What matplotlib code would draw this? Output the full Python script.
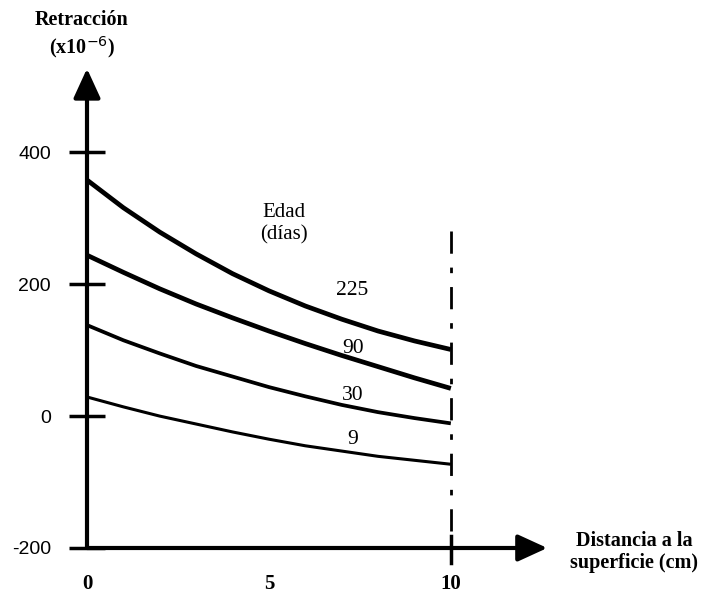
import matplotlib as mpl
mpl.use('agg')
import matplotlib.pyplot as plt

# distance from surface (cm)
distancia = [0, 1, 2, 3, 4, 5, 6, 7, 8, 9, 10]
# shrinkage (x10^-6) for each age (days)
edad_225 = [358, 316, 279, 246, 216, 190, 167, 147, 129, 114, 101]
edad_90 = [244, 218, 193, 170, 149, 129, 110, 92, 75, 58, 42]
edad_30 = [138, 115, 95, 76, 60, 44, 30, 17, 6, -3, -11]
edad_9 = [29, 14, 0, -12, -24, -35, -45, -53, -61, -67, -73]
series = [('225', edad_225, 3.4, 191), ('90', edad_90, 3.4, 103),
          ('30', edad_30, 2.7, 32), ('9', edad_9, 2.2, -36)]
y_ticks = [400, 200, 0, -200]
x_ticks = [0, 5, 10]

serif = 'Liberation Serif'
sans = 'Liberation Sans'

fig = plt.figure(figsize=(7.07, 5.97), dpi=100)
W, H = 707, 597
ax = fig.add_axes([87 / W, (H - 548) / H, (560 - 87) / W, (548 - 60) / H])
ax.set_xlim(0, 13.0)
ax.set_ylim(-200, 540)
for s in ax.spines.values():
    s.set_visible(False)

for name, vals, lw, ly in series:
    ax.plot(distancia, vals, color='black', lw=lw, solid_capstyle='butt')
    ax.text(7.3, ly, name, fontsize=15.5, family=serif, ha='center', va='center')

ax.text(5.4, 292, 'Edad\n(días)', fontsize=15, family=serif, ha='center',
        va='center', linespacing=1.2)

# axes with arrows
arrow = dict(arrowstyle='-|>,head_length=1.2,head_width=0.55', lw=3, color='black',
             shrinkA=0, shrinkB=0, mutation_scale=15)
ax.annotate('', xy=(0, 527), xytext=(0, -200), arrowprops=arrow, annotation_clip=False)
ax.annotate('', xy=(12.65, -200), xytext=(0, -200), arrowprops=arrow, annotation_clip=False)

# dashed limit at 10 cm
ax.plot([10, 10], [280, -222], color='black', lw=2, ls=(0, (8, 5, 2, 5)), clip_on=False)
ax.plot([10, 10], [-182, -222], color='black', lw=2.5, clip_on=False)

ax.set_yticks(y_ticks)
ax.set_yticklabels([str(v) for v in y_ticks], family=sans, fontsize=14)
ax.tick_params(axis='y', direction='inout', length=26, width=2.5, pad=13)
ax.set_xticks(x_ticks)
ax.set_xticklabels([str(v) for v in x_ticks], family=serif, fontsize=15, weight='bold')
ax.tick_params(axis='x', length=0, pad=19)

fig.text(82 / W, 1 - 35 / H, 'Retracción\n(x10$^{-6}$)', fontsize=14.5, family=serif,
         weight='bold', ha='center', va='center', linespacing=1.25)
fig.text(634 / W, 1 - 552 / H, 'Distancia a la\nsuperficie (cm)', fontsize=14.5,
         family=serif, weight='bold', ha='center', va='center', linespacing=1.15)

fig.savefig('out.png', dpi=100)
